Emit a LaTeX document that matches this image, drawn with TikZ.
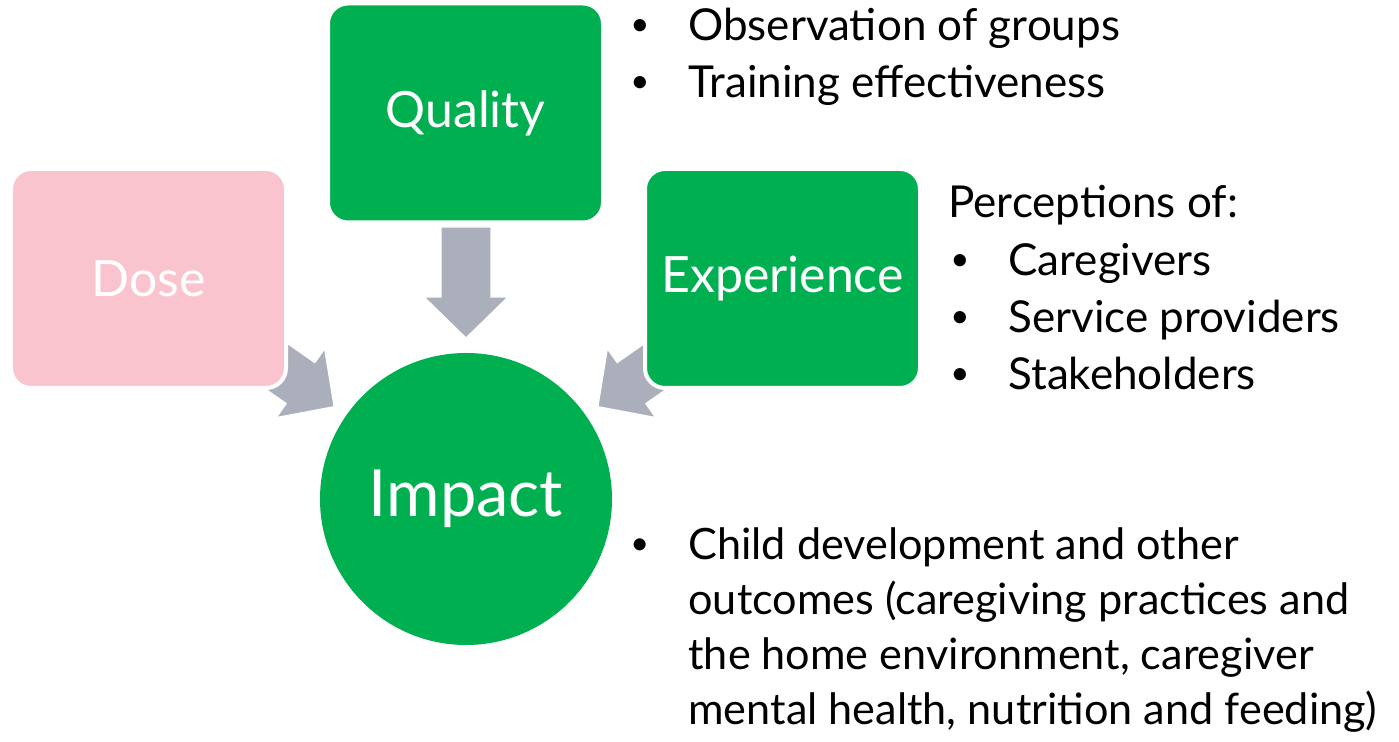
\documentclass[tikz,border=0pt]{standalone}
\usepackage{fontspec}
\usepackage{graphicx}
\setmainfont{Lato}
\usetikzlibrary{calc}

\definecolor{evalgreen}{RGB}{0,176,80}
\definecolor{dosepink}{RGB}{250,196,207}
\definecolor{arrowgray}{RGB}{171,175,187}

\newcommand{\bulletline}[1]{\makebox[29pt][l]{\raisebox{2.5pt}{\scalebox{0.75}{\textbullet}}}#1}

\tikzset{
  box/.style={rounded corners=10pt, minimum width=137.5pt, minimum height=109.5pt,
    draw=white, line width=2pt, text=white, font=\fontsize{25}{29}\selectfont},
  listtext/.style={anchor=base west, inner sep=0pt, font=\fontsize{22}{26}\selectfont},
  pics/blockarrow/.style={code={
    \fill[arrowgray, draw=white, line width=0.6pt]
      (0,0) -- (-41,42) -- (-41,25) -- (-111,25) -- (-111,-25) -- (-41,-25) -- (-41,-42) -- cycle;
  }}
}

\begin{document}
\begin{tikzpicture}[x=0.5pt, y=0.5pt]
\useasboundingbox (0,0) rectangle (1399,742);

\node[circle, fill=evalgreen, minimum size=146pt, inner sep=0pt, text=white,
  font=\fontsize{32.5}{38}\selectfont] (impact) at (466,243) {Impact};

% block arrows pointing at the circle (drawn before the boxes, which hide their tails)
\pic[rotate=270] at ($(impact.center)+(90:161)$) {blockarrow};
\pic[rotate=325] at ($(impact.center)+(145:161)$) {blockarrow};
\pic[rotate=215] at ($(impact.center)+(35:161)$) {blockarrow};

\node[box, fill=dosepink] (dose) at (148.5,463.5) {Dose};
\node[box, fill=evalgreen] (quality) at (465.5,629) {Quality};
\node[box, fill=evalgreen] (experience) at (782.5,463.5) {Experience};

% text beside the boxes
\foreach \txt [count=\i] in {Observation of groups, Training effectiveness}
  \node[listtext] (quallist\i) at (630,758-57*\i) {\bulletline{\txt}};

\node[listtext] (perc) at (948,524) {Perceptions of:};
\foreach \txt [count=\i] in {Caregivers, Service providers, Stakeholders}
  \node[listtext] (perclist\i) at (950,523-57*\i) {\bulletline{\txt}};

\foreach \txt [count=\i] in {Child development and other,
    outcomes (caregiving practices and,
    {the home environment, caregiver},
    {mental health, nutrition and feeding)}}
  \node[listtext, font=\fontsize{21.6}{26}\selectfont] (outlist\i) at (630,237-55*\i)
    {\ifnum\i=1 \bulletline{\txt}\else\hspace{29pt}\txt\fi};
\end{tikzpicture}
\end{document}
